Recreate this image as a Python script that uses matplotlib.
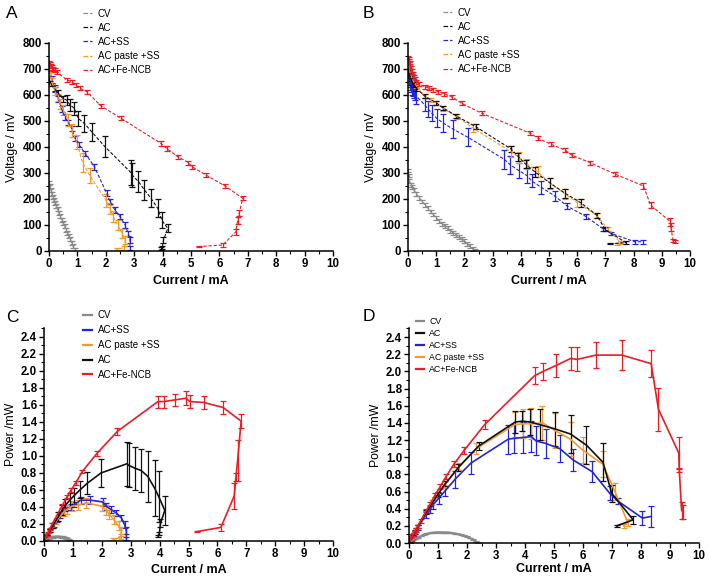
import matplotlib.pyplot as plt
from matplotlib.lines import Line2D
from matplotlib.ticker import MultipleLocator, FormatStrFormatter

plt.rcParams['font.family'] = ['Liberation Sans', 'DejaVu Sans']

# ---------------- panel A / C (same current points) ----------------
i_cv_a = [0.0, 0.03, 0.06, 0.1, 0.14, 0.18, 0.22, 0.26, 0.3, 0.35, 0.4, 0.45, 0.5, 0.55, 0.6, 0.65, 0.7, 0.75, 0.8, 0.85, 0.9]
v_cv_a = [262, 248, 235, 220, 208, 196, 184, 172, 160, 146, 133, 120, 107, 95, 82, 70, 57, 45, 32, 18, 5]
e_cv_a = [8] * 21
p_cv_c = [0, 0.007, 0.014, 0.022, 0.029, 0.035, 0.040, 0.045, 0.048, 0.051, 0.053, 0.054, 0.054, 0.052, 0.049, 0.046, 0.040, 0.034, 0.026, 0.015, 0.005]
pe_cv_c = [0.008] * 21

i_ac_a = [0.0, 0.05, 0.1, 0.2, 0.3, 0.5, 0.62, 0.74, 0.89, 1.03, 1.24, 1.5, 1.97, 2.88, 2.93, 3.15, 3.36, 3.59, 3.83, 3.97, 4.18, 4.03, 3.99, 3.95]
v_ac_a = [660, 648, 638, 623, 610, 585, 581, 562, 549, 510, 491, 459, 401, 302, 292, 267, 235, 203, 164, 119, 87, 42, 13, 10]
e_ac_a = [5, 5, 5, 8, 10, 12, 20, 22, 25, 28, 32, 35, 40, 48, 45, 42, 38, 35, 35, 30, 15, 10, 5, 5]
p_ac_c = [0, 0.03, 0.064, 0.125, 0.18, 0.29, 0.36, 0.42, 0.48, 0.53, 0.60, 0.68, 0.80, 0.91, 0.89, 0.855, 0.83, 0.76, 0.62, 0.52, 0.36, 0.21, 0.09, 0.06]
pe_ac_c = [0.005, 0.01, 0.01, 0.02, 0.03, 0.05, 0.06, 0.07, 0.08, 0.09, 0.1, 0.13, 0.17, 0.26, 0.26, 0.25, 0.25, 0.3, 0.33, 0.3, 0.17, 0.05, 0.02, 0.01]

i_ss_a = [0.0, 0.05, 0.1, 0.2, 0.33, 0.45, 0.56, 0.68, 0.8, 0.92, 1.05, 1.27, 1.6, 2.03, 2.15, 2.32, 2.5, 2.68, 2.79, 2.85, 2.85]
v_ss_a = [700, 680, 660, 625, 585, 545, 515, 495, 470, 433, 410, 376, 324, 222, 190, 158, 132, 100, 68, 42, 10]
e_ss_a = [10, 10, 12, 12, 12, 12, 12, 10, 10, 10, 10, 10, 12, 12, 10, 10, 10, 10, 10, 10, 8]
p_ss_c = [0, 0.034, 0.066, 0.125, 0.19, 0.245, 0.29, 0.34, 0.38, 0.40, 0.43, 0.48, 0.48, 0.46, 0.41, 0.37, 0.33, 0.27, 0.19, 0.12, 0.03]
pe_ss_c = [0.005, 0.01, 0.01, 0.02, 0.02, 0.02, 0.02, 0.02, 0.02, 0.03, 0.03, 0.04, 0.05, 0.05, 0.04, 0.04, 0.04, 0.04, 0.04, 0.04, 0.02]

i_ps_a = [0.0, 0.05, 0.1, 0.2, 0.3, 0.4, 0.5, 0.68, 0.8, 0.97, 1.18, 1.44, 2.0, 2.15, 2.26, 2.42, 2.58, 2.68, 2.65, 2.4]
v_ps_a = [705, 680, 655, 615, 590, 565, 542, 504, 465, 420, 340, 290, 196, 164, 132, 100, 68, 42, 12, 8]
e_ps_a = [10, 10, 12, 15, 15, 18, 20, 22, 25, 28, 35, 30, 25, 22, 20, 20, 18, 15, 8, 5]
p_ps_c = [0, 0.034, 0.066, 0.123, 0.177, 0.226, 0.27, 0.34, 0.37, 0.41, 0.42, 0.45, 0.41, 0.36, 0.31, 0.25, 0.18, 0.12, 0.04, 0.02]
pe_ps_c = [0.005, 0.01, 0.01, 0.02, 0.03, 0.03, 0.04, 0.05, 0.05, 0.06, 0.06, 0.06, 0.06, 0.06, 0.05, 0.05, 0.05, 0.04, 0.02, 0.01]

i_fe_a = [0.0, 0.03, 0.06, 0.1, 0.15, 0.2, 0.27, 0.62, 0.8, 0.94, 1.09, 1.33, 1.83, 2.54, 3.94, 4.14, 4.53, 4.91, 5.05, 5.53, 6.2, 6.82, 6.7, 6.64, 6.58, 6.12, 5.29]
v_fe_a = [722, 718, 712, 706, 700, 695, 690, 658, 651, 638, 626, 613, 558, 510, 414, 395, 363, 340, 323, 292, 250, 203, 147, 117, 74, 23, 17]
e_fe_a = [8, 8, 8, 8, 8, 8, 8, 8, 8, 8, 8, 8, 8, 8, 10, 10, 8, 8, 8, 8, 8, 8, 12, 12, 12, 6, 3]
p_fe_c = [0, 0.02, 0.04, 0.07, 0.1, 0.14, 0.19, 0.41, 0.52, 0.6, 0.68, 0.82, 1.03, 1.29, 1.64, 1.64, 1.66, 1.68, 1.64, 1.63, 1.57, 1.41, 0.95, 0.75, 0.53, 0.16, 0.11]
pe_fe_c = [0.005, 0.01, 0.01, 0.01, 0.01, 0.01, 0.02, 0.02, 0.02, 0.02, 0.02, 0.02, 0.03, 0.04, 0.07, 0.07, 0.07, 0.08, 0.08, 0.08, 0.08, 0.08, 0.24, 0.05, 0.15, 0.04, 0.01]

# ---------------- panel B / D (same current points) ----------------
i_cv_b = [0.0, 0.02, 0.05, 0.1, 0.15, 0.2, 0.3, 0.4, 0.5, 0.6, 0.7, 0.8, 0.9, 1.0, 1.1, 1.2, 1.3, 1.4, 1.5, 1.6, 1.7, 1.8, 1.9, 2.0, 2.1, 2.2, 2.3, 2.38]
v_cv_b = [310, 290, 270, 255, 245, 235, 220, 205, 190, 178, 165, 152, 140, 128, 115, 105, 97, 88, 78, 70, 62, 55, 45, 38, 28, 18, 8, 2]
e_cv_b = [7] * 28
p_cv_d = [0, 0.006, 0.014, 0.026, 0.037, 0.047, 0.066, 0.082, 0.095, 0.107, 0.116, 0.122, 0.126, 0.128, 0.127, 0.126, 0.126, 0.123, 0.117, 0.112, 0.105, 0.099, 0.086, 0.076, 0.059, 0.04, 0.018, 0.005]
pe_cv_d = [0.005] * 28

i_ac_b = [0.0, 0.03, 0.06, 0.1, 0.15, 0.2, 0.3, 0.6, 1.0, 1.25, 1.7, 2.4, 3.66, 3.91, 4.17, 4.5, 5.03, 5.57, 6.12, 6.69, 6.99, 7.73, 7.16]
v_ac_b = [700, 688, 675, 662, 650, 640, 625, 595, 570, 550, 520, 478, 392, 363, 334, 304, 262, 222, 186, 138, 83, 32, 28]
e_ac_b = [10, 10, 10, 10, 10, 10, 8, 8, 8, 8, 8, 10, 12, 15, 15, 18, 18, 18, 15, 10, 8, 5, 2]
p_ac_d = [0.0, 0.02, 0.04, 0.066, 0.098, 0.128, 0.19, 0.36, 0.57, 0.69, 0.88, 1.13, 1.41, 1.42, 1.41, 1.38, 1.33, 1.27, 1.14, 0.94, 0.58, 0.27, 0.2]
pe_ac_d = [0.01, 0.01, 0.01, 0.01, 0.01, 0.02, 0.02, 0.02, 0.03, 0.03, 0.04, 0.05, 0.13, 0.12, 0.15, 0.18, 0.2, 0.22, 0.22, 0.22, 0.1, 0.05, 0.01]

i_ss_b = [0.0, 0.02, 0.04, 0.06, 0.08, 0.1, 0.13, 0.16, 0.2, 0.25, 0.3, 0.59, 0.72, 0.84, 1.02, 1.25, 1.58, 2.13, 3.42, 3.62, 3.92, 4.22, 4.38, 4.72, 5.2, 5.65, 6.32, 6.92, 7.2, 8.05, 8.35]
v_ss_b = [700, 690, 680, 670, 660, 650, 640, 632, 622, 612, 595, 562, 545, 530, 510, 492, 470, 437, 352, 332, 310, 290, 270, 245, 212, 172, 132, 85, 68, 35, 36]
e_ss_b = [30, 35, 40, 40, 40, 40, 40, 35, 35, 30, 30, 25, 30, 30, 35, 35, 35, 35, 35, 35, 30, 30, 25, 25, 20, 12, 10, 8, 5, 8, 8]
p_ss_d = [0.0, 0.014, 0.027, 0.04, 0.053, 0.065, 0.083, 0.1, 0.124, 0.153, 0.18, 0.33, 0.39, 0.45, 0.52, 0.61, 0.74, 0.93, 1.21, 1.22, 1.23, 1.24, 1.19, 1.16, 1.1, 0.97, 0.83, 0.58, 0.49, 0.29, 0.31]
pe_ss_d = [0.01, 0.01, 0.01, 0.02, 0.02, 0.02, 0.02, 0.02, 0.02, 0.02, 0.03, 0.04, 0.04, 0.05, 0.06, 0.06, 0.1, 0.13, 0.17, 0.17, 0.18, 0.18, 0.17, 0.17, 0.16, 0.13, 0.12, 0.08, 0.03, 0.08, 0.12]

i_ps_b = [0.0, 0.03, 0.06, 0.1, 0.15, 0.2, 0.3, 0.6, 0.8, 1.0, 1.25, 1.73, 2.32, 3.65, 3.94, 4.21, 4.6, 5.04, 5.57, 6.0, 6.68, 7.1, 7.54, 7.4]
v_ps_b = [715, 702, 690, 676, 662, 650, 635, 595, 582, 570, 548, 517, 472, 382, 360, 335, 305, 260, 219, 186, 138, 83, 32, 27]
e_ps_b = [15, 12, 12, 10, 10, 8, 8, 8, 8, 8, 8, 10, 15, 20, 20, 20, 20, 20, 18, 15, 10, 8, 5, 3]
p_ps_d = [0.0, 0.02, 0.04, 0.068, 0.1, 0.13, 0.19, 0.357, 0.47, 0.57, 0.685, 0.89, 1.1, 1.38, 1.39, 1.39, 1.4, 1.31, 1.21, 1.08, 0.92, 0.6, 0.24, 0.2]
pe_ps_d = [0.01, 0.01, 0.01, 0.01, 0.01, 0.02, 0.02, 0.02, 0.03, 0.03, 0.04, 0.04, 0.06, 0.15, 0.17, 0.18, 0.2, 0.2, 0.2, 0.15, 0.15, 0.1, 0.04, 0.02]

i_fe_b = [0.0, 0.02, 0.04, 0.06, 0.08, 0.1, 0.13, 0.16, 0.2, 0.25, 0.3, 0.4, 0.6, 0.74, 0.9, 1.08, 1.29, 1.55, 1.9, 2.61, 4.33, 4.62, 5.08, 5.57, 5.8, 6.45, 7.34, 8.35, 8.6, 9.3, 9.32, 9.4, 9.46]
v_fe_b = [740, 735, 728, 720, 710, 700, 690, 680, 670, 660, 650, 642, 632, 626, 619, 613, 604, 593, 568, 530, 453, 433, 410, 388, 369, 340, 296, 250, 177, 113, 92, 40, 37]
e_fe_b = [10, 10, 10, 10, 10, 10, 10, 10, 8, 8, 8, 8, 8, 8, 8, 8, 8, 8, 8, 8, 8, 8, 8, 8, 8, 8, 8, 12, 12, 15, 15, 6, 6]
p_fe_d = [0.0, 0.015, 0.03, 0.043, 0.057, 0.07, 0.09, 0.11, 0.134, 0.165, 0.195, 0.257, 0.38, 0.46, 0.56, 0.66, 0.78, 0.92, 1.08, 1.38, 1.95, 2.0, 2.07, 2.15, 2.14, 2.19, 2.19, 2.09, 1.56, 1.05, 0.85, 0.38, 0.36]
pe_fe_d = [0.01, 0.01, 0.01, 0.01, 0.01, 0.01, 0.01, 0.01, 0.01, 0.01, 0.02, 0.02, 0.02, 0.02, 0.02, 0.03, 0.03, 0.03, 0.04, 0.05, 0.1, 0.1, 0.13, 0.13, 0.14, 0.15, 0.17, 0.16, 0.25, 0.19, 0.02, 0.1, 0.08]

GRAY, BLACK, BLUE, ORANGE, RED = '#8a8a8a', '#111111', '#2424d8', '#f39a2a', '#ec1c24'


def style(ax, ymax, major, minor, fmt, xpad):
    for s in ['top', 'right']:
        ax.spines[s].set_visible(False)
    for s in ['left', 'bottom']:
        ax.spines[s].set_linewidth(1.1)
    ax.set_xlim(0, 10)
    ax.set_ylim(0, ymax)
    ax.xaxis.set_major_locator(MultipleLocator(1))
    ax.xaxis.set_minor_locator(MultipleLocator(0.5))
    ax.yaxis.set_major_locator(MultipleLocator(major))
    ax.yaxis.set_minor_locator(MultipleLocator(minor))
    ax.yaxis.set_major_formatter(FormatStrFormatter(fmt))
    ax.tick_params(which='major', direction='out', length=3.5, width=1, labelsize=8.3, pad=1.5)
    ax.tick_params(which='minor', direction='out', length=2, width=0.8)
    for t in ax.get_xticklabels() + ax.get_yticklabels():
        t.set_fontweight('bold')
    ax.set_xlabel('Current / mA', fontsize=9, fontweight='bold', labelpad=xpad)


def draw(ax, x, y, e, color, ls, lw):
    ax.errorbar(x, y, yerr=e, color=color, ls=ls, lw=lw, elinewidth=0.9,
                capsize=2, capthick=0.9, dashes=(3, 1.6) if ls == '--' else (None, None))


fig = plt.figure(figsize=(7.09, 5.77), dpi=100)
axA = fig.add_axes([0.0691, 0.565, 0.4006, 0.3605])
axB = fig.add_axes([0.5755, 0.565, 0.3977, 0.3605])
axC = fig.add_axes([0.0621, 0.0624, 0.4076, 0.3683])
axD = fig.add_axes([0.5769, 0.0589, 0.4090, 0.3718])

# A
draw(axA, i_cv_a, v_cv_a, e_cv_a, GRAY, '--', 0.8)
draw(axA, i_ac_a, v_ac_a, e_ac_a, BLACK, '--', 0.8)
draw(axA, i_ss_a, v_ss_a, e_ss_a, BLUE, '--', 0.8)
draw(axA, i_ps_a, v_ps_a, e_ps_a, ORANGE, '--', 0.8)
draw(axA, i_fe_a, v_fe_a, e_fe_a, RED, '--', 0.8)
# B
draw(axB, i_cv_b, v_cv_b, e_cv_b, GRAY, '--', 0.8)
draw(axB, i_ss_b, v_ss_b, e_ss_b, BLUE, '--', 0.8)
draw(axB, i_ps_b, v_ps_b, e_ps_b, ORANGE, '--', 0.8)
draw(axB, i_ac_b, v_ac_b, e_ac_b, BLACK, '--', 0.8)
draw(axB, i_fe_b, v_fe_b, e_fe_b, RED, '--', 0.8)
# C
draw(axC, i_cv_a, p_cv_c, pe_cv_c, GRAY, '-', 1.2)
draw(axC, i_ss_a, p_ss_c, pe_ss_c, BLUE, '-', 1.2)
draw(axC, i_ps_a, p_ps_c, pe_ps_c, ORANGE, '-', 1.2)
draw(axC, i_ac_a, p_ac_c, pe_ac_c, BLACK, '-', 1.2)
draw(axC, i_fe_a, p_fe_c, pe_fe_c, RED, '-', 1.2)
# D
draw(axD, i_cv_b, p_cv_d, pe_cv_d, GRAY, '-', 1.2)
draw(axD, i_ss_b, p_ss_d, pe_ss_d, BLUE, '-', 1.2)
draw(axD, i_ps_b, p_ps_d, pe_ps_d, ORANGE, '-', 1.2)
draw(axD, i_ac_b, p_ac_d, pe_ac_d, BLACK, '-', 1.2)
draw(axD, i_fe_b, p_fe_d, pe_fe_d, RED, '-', 1.2)

for ax in (axA, axB):
    style(ax, 800, 100, 50, '%d', 4)
    ax.set_ylabel('Voltage / mV', fontsize=8.8, labelpad=3)
style(axC, 2.5, 0.2, 0.1, '%.1f', 3)
style(axD, 2.5, 0.2, 0.1, '%.1f', 1)
for ax in (axC, axD):
    ax.set_ylabel('Power /mW', fontsize=8.8, labelpad=3)


def legend(ax, names, colors, ls, lw, anchor, size, spacing):
    handles = [Line2D([], [], color=c, ls=ls, lw=lw) for c in colors]
    ax.legend(handles, names, loc='upper left', bbox_to_anchor=anchor, frameon=False,
              fontsize=size, handlelength=0.9, handletextpad=0.6, labelspacing=spacing,
              borderaxespad=0, borderpad=0)


names_ab = ['CV', 'AC', 'AC+SS', 'AC paste +SS', 'AC+Fe-NCB']
cols_ab = [GRAY, BLACK, BLUE, ORANGE, RED]
legend(axA, names_ab, cols_ab, '--', 0.9, (0.12, 1.165), 7, 0.42)
legend(axB, names_ab, cols_ab, '--', 0.9, (0.125, 1.17), 7, 0.42)
legend(axC, ['CV', 'AC+SS', 'AC paste +SS', 'AC', 'AC+Fe-NCB'],
       [GRAY, BLUE, ORANGE, BLACK, RED], '-', 1.6, (0.135, 1.085), 7, 0.5)
legend(axD, names_ab, cols_ab, '-', 1.6, (0.025, 1.055), 6.3, 0.35)

fig.text(0.009, 0.977, 'A', fontsize=12.5, va='center')
fig.text(0.512, 0.977, 'B', fontsize=12.5, va='center')
fig.text(0.009, 0.450, 'C', fontsize=12.5, va='center')
fig.text(0.512, 0.452, 'D', fontsize=12.5, va='center')

fig.savefig('out.png', dpi=100)
